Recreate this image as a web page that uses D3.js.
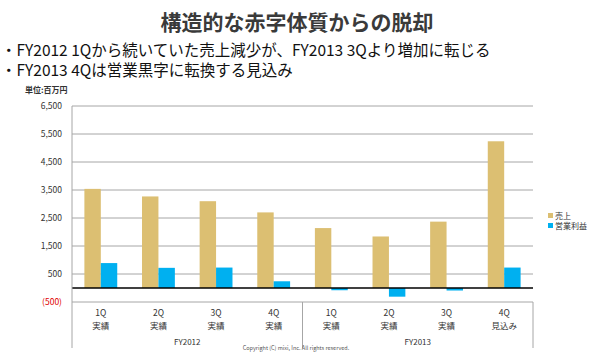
<!DOCTYPE html>
<html>
<head>
<meta charset="utf-8">
<script src="https://cdn.jsdelivr.net/npm/d3@7"></script>
<style>
  body { margin: 0; background: #fff; }
  svg { display: block; font-family: "Noto Sans CJK JP", "Noto Sans", sans-serif; }
</style>
</head>
<body>
<div id="chart"></div>
<script>
// Data (unit: million yen)
const quarters = ['1Q', '2Q', '3Q', '4Q', '1Q', '2Q', '3Q', '4Q'];
const status = ['実績', '実績', '実績', '実績', '実績', '実績', '実績', '見込み'];
const fiscalYears = ['FY2012', 'FY2013'];
const seriesNames = ['売上', '営業利益'];
const sales = [3540, 3270, 3100, 2700, 2140, 1840, 2370, 5240];
const opProfit = [890, 720, 730, 240, -80, -310, -90, 730];
const yTicks = [-500, 500, 1500, 2500, 3500, 4500, 5500, 6500];

const colors = { '売上': '#dcbf72', '営業利益': '#00b0f0' };

const width = 600, height = 354;
const plot = { left: 72, right: 533, top: 106, bottom: 302, tableBottom: 348 };

const svg = d3.select('#chart').append('svg')
  .attr('width', width)
  .attr('height', height);

// Title and bullets
svg.append('text')
  .attr('x', 297).attr('y', 30)
  .attr('text-anchor', 'middle')
  .style('font-size', '21px').style('font-weight', 'bold')
  .style('fill', '#3a3a3a')
  .text('構造的な赤字体質からの脱却');

const bullets = [
  '・FY2012 1Qから続いていた売上減少が、FY2013 3Qより増加に転じる',
  '・FY2013 4Qは営業黒字に転換する見込み'
];
svg.selectAll('.bullet')
  .data(bullets)
  .enter().append('text')
  .attr('class', 'bullet')
  .attr('x', 1)
  .attr('y', (d, i) => 56 + i * 20)
  .style('font-size', '15.5px')
  .style('fill', '#111')
  .text(d => d);

svg.append('text')
  .attr('x', 25).attr('y', 93)
  .style('font-size', '8px').style('font-weight', 'bold')
  .style('fill', '#333')
  .text('単位:百万円');

// Scales
const idx = d3.range(quarters.length);
const x = d3.scaleBand()
  .domain(idx)
  .range([plot.left, plot.right])
  .paddingInner(0.43)
  .paddingOuter(0.215);

const xSub = d3.scaleBand()
  .domain(seriesNames)
  .range([0, x.bandwidth()]);

const y = d3.scaleLinear()
  .domain([-500, 6500])
  .range([plot.bottom, plot.top]);

// Grid
svg.append('g')
  .attr('class', 'grid')
  .selectAll('line')
  .data(yTicks)
  .enter().append('line')
  .attr('x1', plot.left).attr('x2', plot.right)
  .attr('y1', d => y(d)).attr('y2', d => y(d))
  .style('stroke', '#a6a6a6')
  .style('stroke-width', 1);

// Y axis
const yAxis = d3.axisLeft(y)
  .tickValues(yTicks)
  .tickSize(0)
  .tickPadding(10)
  .tickFormat(d => d < 0 ? `(${d3.format(',')(-d)})` : d3.format(',')(d));

const yAxisGroup = svg.append('g')
  .attr('class', 'y-axis')
  .attr('transform', `translate(${plot.left},0)`)
  .call(yAxis);
yAxisGroup.select('.domain').remove();
yAxisGroup.selectAll('text')
  .style('font-size', '8.5px')
  .style('font-family', '"Noto Sans CJK JP", sans-serif')
  .style('fill', d => d < 0 ? '#e00000' : '#333');

// Bars
const rows = idx.map(i => ({ i, values: [
  { key: '売上', value: sales[i] },
  { key: '営業利益', value: opProfit[i] }
] }));

svg.append('g')
  .attr('class', 'bars')
  .selectAll('g')
  .data(rows)
  .enter().append('g')
  .attr('transform', d => `translate(${x(d.i)},0)`)
  .selectAll('rect')
  .data(d => d.values)
  .enter().append('rect')
  .attr('x', d => xSub(d.key))
  .attr('width', xSub.bandwidth())
  .attr('y', d => y(Math.max(0, d.value)))
  .attr('height', d => Math.abs(y(d.value) - y(0)))
  .attr('fill', d => colors[d.key]);

// Zero line
svg.append('line')
  .attr('x1', plot.left).attr('x2', plot.right)
  .attr('y1', y(0)).attr('y2', y(0))
  .style('stroke', '#000')
  .style('stroke-width', 1.5);

// Axis and table separators
const axisLines = [
  [plot.left, plot.top],
  [x(4) - x.step() * x.paddingInner() / 2, plot.bottom],
  [plot.right, plot.bottom]
];
svg.append('g')
  .selectAll('line')
  .data(axisLines)
  .enter().append('line')
  .attr('x1', d => d[0]).attr('x2', d => d[0])
  .attr('y1', d => d[1]).attr('y2', plot.tableBottom)
  .style('stroke', '#a6a6a6')
  .style('stroke-width', 1);

// Category labels
const catLabels = svg.append('g').attr('class', 'x-labels');
catLabels.selectAll('.q')
  .data(idx)
  .enter().append('text')
  .attr('x', i => x(i) + x.bandwidth() / 2)
  .attr('y', 316)
  .attr('text-anchor', 'middle')
  .style('font-size', '8.5px').style('fill', '#333')
  .text(i => quarters[i]);
catLabels.selectAll('.s')
  .data(idx)
  .enter().append('text')
  .attr('x', i => x(i) + x.bandwidth() / 2)
  .attr('y', 329)
  .attr('text-anchor', 'middle')
  .style('font-size', '8.5px').style('fill', '#333')
  .text(i => status[i]);

catLabels.selectAll('.fy')
  .data(fiscalYears)
  .enter().append('text')
  .attr('x', (d, k) => (x(k * 4) + x(k * 4 + 3) + x.bandwidth()) / 2)
  .attr('y', 345)
  .attr('text-anchor', 'middle')
  .style('font-size', '8px').style('fill', '#333')
  .text(d => d);

// Legend
const legend = svg.append('g')
  .attr('transform', 'translate(548,213)');
const items = legend.selectAll('g')
  .data(seriesNames)
  .enter().append('g')
  .attr('transform', (d, i) => `translate(0,${i * 10})`);
items.append('rect')
  .attr('width', 5).attr('height', 5)
  .attr('fill', d => colors[d]);
items.append('text')
  .attr('x', 7).attr('y', 5.5)
  .style('font-size', '8px').style('fill', '#333')
  .text(d => d);

// Footer
svg.append('text')
  .attr('x', 296).attr('y', 350)
  .attr('text-anchor', 'middle')
  .style('font-size', '5.5px').style('fill', '#555')
  .text('Copyright (C) mixi, Inc. All rights reserved.');
</script>
</body>
</html>
